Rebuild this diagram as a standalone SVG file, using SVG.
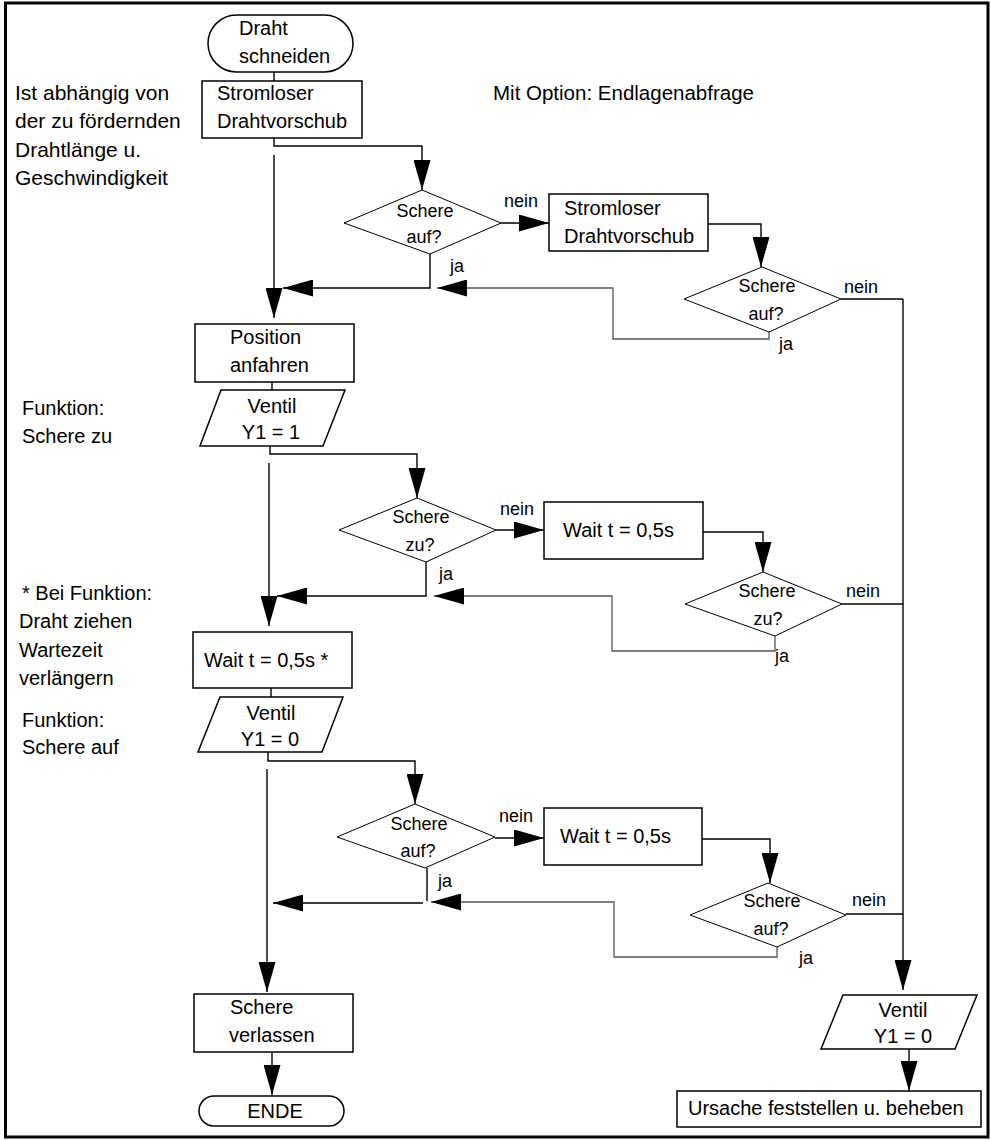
<svg xmlns="http://www.w3.org/2000/svg" width="991" height="1140" viewBox="0 0 991 1140">
<defs>
<style>
text{font-family:"Liberation Sans",Arial,sans-serif;fill:#000}
.t{font-size:20px}
.s{font-size:21px}
.d{font-size:18px;text-anchor:middle}
.l{font-size:18px}
.m{text-anchor:middle}
.box{fill:#fff;stroke:#000;stroke-width:1.5}
.dia{fill:#fff;stroke:#000;stroke-width:1}
.c{fill:none;stroke:#000;stroke-width:1.4}
.g{fill:none;stroke:#555;stroke-width:1.3}
</style>
<marker id="a" markerUnits="userSpaceOnUse" markerWidth="30" markerHeight="17" refX="30" refY="8.5" orient="auto">
<path d="M0,0 L30,8.5 L0,17 Z" fill="#000"/>
</marker>
</defs>
<rect x="5.5" y="3" width="982.5" height="1134" fill="#fff" stroke="#000" stroke-width="3"/>

<g id="notes">
<text class="s" x="15" y="100">Ist abhängig von</text>
<text class="s" x="15" y="128">der zu fördernden</text>
<text class="s" x="15" y="157">Drahtlänge u.</text>
<text class="s" x="15" y="185">Geschwindigkeit</text>
<text class="t" x="493" y="100" style="font-size:20.5px">Mit Option: Endlagenabfrage</text>
<text class="t" x="22" y="415">Funktion:</text>
<text class="t" x="22" y="443">Schere zu</text>
<text class="t" x="22" y="600">* Bei Funktion:</text>
<text class="t" x="19" y="628">Draht ziehen</text>
<text class="t" x="19" y="657">Wartezeit</text>
<text class="t" x="19" y="685">verlängern</text>
<text class="t" x="22" y="727">Funktion:</text>
<text class="t" x="22" y="754">Schere auf</text>
</g>

<g id="connectors">
<path class="c" d="M274,72 V81"/>
<path class="c" d="M274,138 V146 H422 V190" marker-end="url(#a)"/>
<path class="c" d="M274,155 V318" marker-end="url(#a)"/>
<path class="c" d="M430,254 V288 H283" marker-end="url(#a)"/>
<path class="c" d="M501,223 H549" marker-end="url(#a)"/>
<path class="c" d="M708,224 H761 V267" marker-end="url(#a)"/>
<path class="c" d="M841,299 H903"/>
<path class="g" d="M769,332 V339 H613 V288 H437" marker-end="url(#a)"/>
<path class="c" d="M903,299 V990" marker-end="url(#a)"/>

<path class="c" d="M272,382 V390"/>
<path class="c" d="M270,446 V454 H417 V498" marker-end="url(#a)"/>
<path class="c" d="M269,463 V626" marker-end="url(#a)"/>
<path class="c" d="M426,562 V596 H277" marker-end="url(#a)"/>
<path class="c" d="M496,530 H544" marker-end="url(#a)"/>
<path class="c" d="M703,532 H763 V572" marker-end="url(#a)"/>
<path class="c" d="M842,604 H903"/>
<path class="g" d="M775,636 V651 H612 V596 H434" marker-end="url(#a)"/>

<path class="c" d="M271,688 V697"/>
<path class="c" d="M268,752 V761 H415 V804" marker-end="url(#a)"/>
<path class="c" d="M267,769 V992" marker-end="url(#a)"/>
<path class="c" d="M427,868 V901"/>
<path class="c" d="M423,903 H273" marker-end="url(#a)"/>
<path class="c" d="M495,838 H544" marker-end="url(#a)"/>
<path class="c" d="M702,839 H770 V883" marker-end="url(#a)"/>
<path class="c" d="M846,914 H903"/>
<path class="g" d="M777,947 V957 H614 V902 H431" marker-end="url(#a)"/>

<path class="c" d="M272,1053 V1095" marker-end="url(#a)"/>
<path class="c" d="M909,1049 V1091" marker-end="url(#a)"/>

<text class="l" x="504" y="207">nein</text>
<text class="l" x="450" y="272">ja</text>
<text class="l" x="844" y="293">nein</text>
<text class="l" x="779" y="350">ja</text>
<text class="l" x="500" y="515">nein</text>
<text class="l" x="439" y="580">ja</text>
<text class="l" x="846" y="597">nein</text>
<text class="l" x="775" y="662">ja</text>
<text class="l" x="499" y="822">nein</text>
<text class="l" x="438" y="887">ja</text>
<text class="l" x="852" y="906">nein</text>
<text class="l" x="799" y="964">ja</text>
</g>

<g id="start">
<rect class="box" x="208" y="15" width="145" height="57" rx="28.5"/>
<text class="t" x="239" y="35">Draht</text>
<text class="t" x="239" y="63">schneiden</text>
</g>
<g id="vorschub1">
<rect class="box" x="202" y="81" width="160" height="57"/>
<text class="t" x="217" y="100">Stromloser</text>
<text class="t" x="217" y="128">Drahtvorschub</text>
</g>
<g id="dia1">
<polygon class="dia" points="344,223 422,190 501,223 430,254"/>
<text class="d" x="425" y="217">Schere</text>
<text class="d" x="424" y="243">auf?</text>
</g>
<g id="vorschub2">
<rect class="box" x="549" y="194" width="159" height="57"/>
<text class="t" x="564" y="215">Stromloser</text>
<text class="t" x="564" y="243">Drahtvorschub</text>
</g>
<g id="dia2">
<polygon class="dia" points="684,299 762,267 841,299 769,332"/>
<text class="d" x="767" y="292">Schere</text>
<text class="d" x="766" y="320">auf?</text>
</g>
<g id="position">
<rect class="box" x="195" y="324" width="159" height="58"/>
<text class="t" x="230" y="344">Position</text>
<text class="t" x="230" y="372">anfahren</text>
</g>
<g id="ventil1">
<polygon class="box" points="221,390 345,390 323,446 200,446"/>
<text class="t m" x="272" y="413">Ventil</text>
<text class="t m" x="271" y="439">Y1 = 1</text>
</g>
<g id="dia3">
<polygon class="dia" points="339,530 417,498 496,530 426,562"/>
<text class="d" x="421" y="523">Schere</text>
<text class="d" x="420" y="551">zu?</text>
</g>
<g id="wait1">
<rect class="box" x="544" y="502" width="159" height="57"/>
<text class="t" x="563" y="537">Wait t = 0,5s</text>
</g>
<g id="dia4">
<polygon class="dia" points="685,604 763,572 842,604 775,636"/>
<text class="d" x="767" y="597">Schere</text>
<text class="d" x="768" y="625">zu?</text>
</g>
<g id="waitstar">
<rect class="box" x="193" y="632" width="159" height="56"/>
<text class="t" x="204" y="667">Wait t = 0,5s *</text>
</g>
<g id="ventil2">
<polygon class="box" points="220,697 343,697 322,752 198,752"/>
<text class="t m" x="271" y="720">Ventil</text>
<text class="t m" x="270" y="746">Y1 = 0</text>
</g>
<g id="dia5">
<polygon class="dia" points="337,837 415,804 495,837 425,868"/>
<text class="d" x="419" y="830">Schere</text>
<text class="d" x="418" y="857">auf?</text>
</g>
<g id="wait2">
<rect class="box" x="544" y="808" width="158" height="57"/>
<text class="t" x="560" y="843">Wait t = 0,5s</text>
</g>
<g id="dia6">
<polygon class="dia" points="690,915 768,883 846,915 777,947"/>
<text class="d" x="772" y="907">Schere</text>
<text class="d" x="771" y="935">auf?</text>
</g>
<g id="verlassen">
<rect class="box" x="194" y="994" width="159" height="58"/>
<text class="t" x="230" y="1014">Schere</text>
<text class="t" x="229" y="1042">verlassen</text>
</g>
<g id="ende">
<rect class="box" x="199" y="1096" width="145" height="30" rx="15"/>
<text class="t m" x="275" y="1118">ENDE</text>
</g>
<g id="ventil3">
<polygon class="box" points="843,995 977,995 955,1049 821,1049"/>
<text class="t m" x="903" y="1017">Ventil</text>
<text class="t m" x="903" y="1043">Y1 = 0</text>
</g>
<g id="ursache">
<rect class="box" x="677" y="1091" width="304" height="36"/>
<text class="t" x="688" y="1115">Ursache feststellen u. beheben</text>
</g>
</svg>
